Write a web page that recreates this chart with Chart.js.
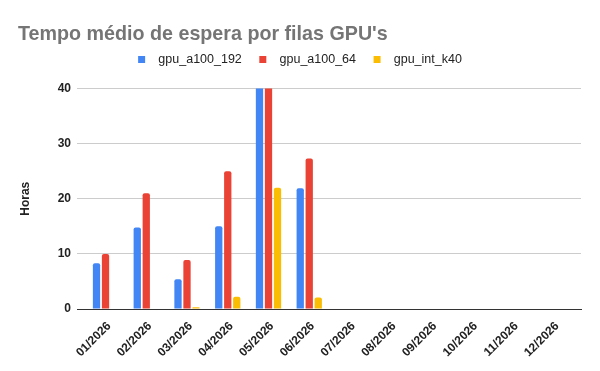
<!DOCTYPE html>
<html>
<head>
<meta charset="utf-8">
<script src="https://cdn.jsdelivr.net/npm/chart.js@4"></script>
<style>
  html, body { margin: 0; padding: 0; background: #fff; }
  canvas { display: block; }
</style>
</head>
<body>
<canvas id="chart" width="600" height="371"></canvas>
<script>
const months = ["01/2026", "02/2026", "03/2026", "04/2026", "05/2026", "06/2026",
  "07/2026", "08/2026", "09/2026", "10/2026", "11/2026", "12/2026"];
// 05/2026 values for the a100 queues go past the top of the axis (clipped at 40)
const gpuA100_192 = [8.3, 14.8, 5.4, 15.0, 45, 21.9, 0, 0, 0, 0, 0, 0];
const gpuA100_64 = [10.0, 21.0, 8.9, 25.0, 45, 27.3, 0, 0, 0, 0, 0, 0];
const gpuIntK40 = [0, 0, 0.3, 2.2, 22.0, 2.1, 0, 0, 0, 0, 0, 0];
const yTicks = [0, 10, 20, 30, 40];

Chart.defaults.font.family = "'Liberation Sans', Arial, sans-serif";
Chart.defaults.color = "#222";

// small square legend marker, drawn inside a wider canvas
// so the gaps around it match the original
function legendMark(color) {
  const c = document.createElement("canvas");
  c.width = 22;
  c.height = 7;
  const ctx = c.getContext("2d");
  ctx.fillStyle = color;
  ctx.fillRect(8, 0, 7, 7);
  return c;
}

// x is a linear axis (month index) so the plot can run a bit past the first/last month
const toPoints = (vals) => vals.map((v, i) => ({ x: i, y: v }));

const bar = (label, data, color) => ({
  label: label,
  data: toPoints(data),
  backgroundColor: color,
  borderRadius: { topLeft: 2, topRight: 2 },
  borderSkipped: "start",
  barPercentage: 0.81,
  categoryPercentage: 0.663,
});

const shiftLegend = {
  id: "shiftLegend",
  afterLayout(chart) {
    chart.legend.left -= 7;
  },
};

new Chart(document.getElementById("chart"), {
  type: "bar",
  data: {
    datasets: [
      bar("gpu_a100_192", gpuA100_192, "#4285f4"),
      bar("gpu_a100_64", gpuA100_64, "#ea4335"),
      bar("gpu_int_k40", gpuIntK40, "#fbbc04"),
    ],
  },
  plugins: [shiftLegend],
  options: {
    responsive: false,
    animation: false,
    layout: { padding: { left: 18, right: 19, top: 0, bottom: 0 } },
    plugins: {
      title: {
        display: true,
        text: "Tempo médio de espera por filas GPU's",
        align: "start",
        color: "#757575",
        font: { size: 19.7, weight: "bold", lineHeight: 1 },
        padding: { top: 24.5, bottom: 0 },
      },
      // empty spacer between legend and plot area
      subtitle: {
        display: true,
        text: "",
        weight: 500,
        font: { size: 10, lineHeight: 1 },
        padding: { top: 2.3, bottom: 0 },
      },
      legend: {
        labels: {
          usePointStyle: true,
          pointStyleWidth: 22,
          padding: 9.5,
          color: "#222",
          font: { size: 12.5 },
          generateLabels: (chart) =>
            Chart.defaults.plugins.legend.labels.generateLabels(chart).map((item) => ({
              ...item,
              pointStyle: legendMark(item.fillStyle),
            })),
        },
      },
      tooltip: { enabled: false },
    },
    scales: {
      x: {
        type: "linear",
        offset: false,
        min: -0.7,
        max: 11.67,
        afterBuildTicks: (s) => { s.ticks = months.map((m, i) => ({ value: i })); },
        grid: { display: false, offset: false },
        border: { color: "#333", width: 1 },
        ticks: {
          autoSkip: false,
          minRotation: 45,
          maxRotation: 45,
          labelOffset: 3.5,
          color: "#222",
          font: { size: 12, weight: "bold" },
          padding: 2,
          callback: (v) => months[v],
        },
        afterFit: (s) => { s.height = 62; },
      },
      y: {
        min: 0,
        max: 40,
        afterBuildTicks: (s) => { s.ticks = yTicks.map((v) => ({ value: v })); },
        grid: { color: "#cccccc", drawTicks: false },
        border: { display: false },
        ticks: {
          color: "#222",
          padding: 6,
          font: { size: 12, weight: "bold" },
        },
        title: {
          display: true,
          text: "Horas",
          color: "#222",
          font: { size: 12, weight: "bold" },
          padding: { top: 0, bottom: 0 },
        },
        afterFit: (s) => { s.width = 59; },
      },
    },
  },
});
</script>
</body>
</html>
